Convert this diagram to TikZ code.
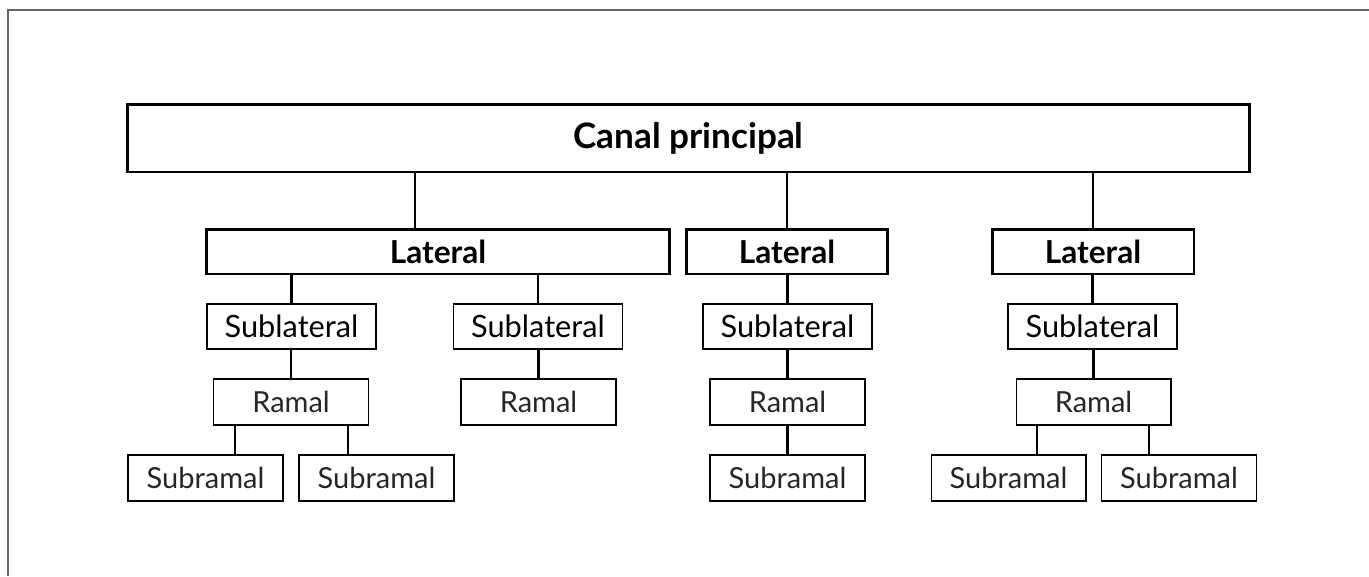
\documentclass[tikz,border=0pt]{standalone}
\usepackage{fontspec}
\setmainfont{Lato}
\usepackage{tikz}
\usetikzlibrary{positioning}

\begin{document}
\begin{tikzpicture}[x=0.02cm,y=-0.02cm]
\tikzstyle{every node}+=[inner sep=0pt,font=\fontsize{16.5}{19}\selectfont]
\tikzstyle{canalbox}=[draw,line width=1.7pt,minimum width=22.46cm,minimum height=1.36cm,font=\fontsize{20}{23}\selectfont\bfseries]
\tikzstyle{latbox}=[draw,line width=1.7pt,minimum height=0.9cm,font=\fontsize{18}{21}\selectfont\bfseries]
\tikzstyle{sublat}=[draw,line width=0.9pt,minimum width=3.38cm,minimum height=0.9cm,font=\fontsize{17.5}{20}\selectfont]
\tikzstyle{ramalbox}=[draw,line width=0.6pt,minimum width=3.1cm,minimum height=0.92cm,text=black!85]
\tikzstyle{conn}=[line width=1.5pt]
\useasboundingbox (0,0) rectangle (1369,576);
\draw [black!60,line width=0.9pt] (8,576) -- (8,10) -- (1369,10);
% canal principal and laterals
\node [canalbox] (canal) at (688.5,138) {Canal principal};
\node [latbox,minimum width=9.28cm] (lat1) at (438,251.5) {Lateral};
\node [latbox,minimum width=4.04cm] (lat2) at (787,251.5) {Lateral};
\node [latbox,minimum width=4.04cm] (lat3) at (1093,251.5) {Lateral};
\draw [conn] (415,0 |- canal.south) -- (415,0 |- lat1.north);
\draw [conn] (canal.south -| lat2.north) -- (lat2.north);
\draw [conn] (canal.south -| lat3.north) -- (lat3.north);
% sublaterals
\node [sublat] (sub1) at (291.5,326.5) {Sublateral};
\node [sublat] (sub2) at (538,326.5) {Sublateral};
\node [sublat] (sub3) at (787.5,326.5) {Sublateral};
\node [sublat] (sub4) at (1092.5,326.5) {Sublateral};
\draw [conn] (lat1.south -| sub1.north) -- (sub1.north);
\draw [conn] (lat1.south -| sub2.north) -- (sub2.north);
\draw [conn] (lat2.south -| sub3.north) -- (sub3.north);
\draw [conn] (lat3.south -| sub4.north) -- (sub4.north);
% ramales
\node [ramalbox] (ram1) at (291,402) {Ramal};
\node [ramalbox] (ram2) at (538.5,402) {Ramal};
\node [ramalbox] (ram3) at (787.5,402) {Ramal};
\node [ramalbox] (ram4) at (1093.5,402) {Ramal};
\draw [conn] (sub1.south -| ram1.north) -- (ram1.north);
\draw [conn] (sub2.south -| ram2.north) -- (ram2.north);
\draw [conn] (sub3.south -| ram3.north) -- (ram3.north);
\draw [conn] (sub4.south -| ram4.north) -- (ram4.north);
% subramales
\node [ramalbox] (sr1) at (205.5,478) {Subramal};
\node [ramalbox] (sr2) at (376.5,478) {Subramal};
\node [ramalbox] (sr3) at (787.5,478) {Subramal};
\node [ramalbox] (sr4) at (1008.5,478) {Subramal};
\node [ramalbox] (sr5) at (1179,478) {Subramal};
\draw [conn] (235,0 |- ram1.south) -- (235,0 |- sr1.north);
\draw [conn] (348,0 |- ram1.south) -- (348,0 |- sr2.north);
\draw [conn] (ram3.south) -- (sr3.north);
\draw [conn] (1037,0 |- ram4.south) -- (1037,0 |- sr4.north);
\draw [conn] (1149,0 |- ram4.south) -- (1149,0 |- sr5.north);
\end{tikzpicture}
\end{document}
